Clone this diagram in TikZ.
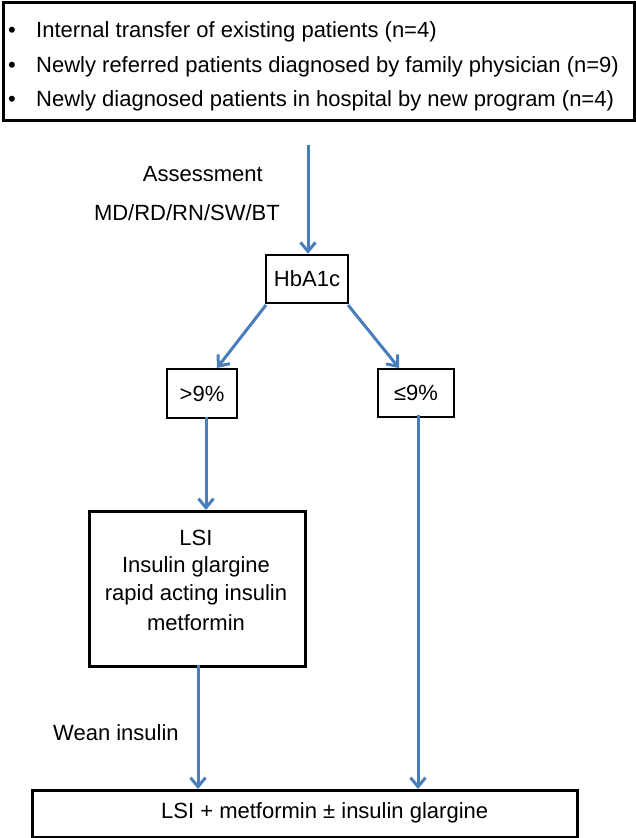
\documentclass[tikz,border=0pt]{standalone}
\usepackage{fontspec}
\setmainfont{Liberation Sans}
\usetikzlibrary{arrows.meta}
\definecolor{arrowblue}{RGB}{74,126,187}
\tikzset{
  box/.style={draw=black, line width=2.5pt, inner sep=0pt},
  flow/.style={draw=arrowblue, line width=3pt, -{Straight Barb[length=9pt,width=15pt,line width=3pt]}},
  lbl/.style={font=\fontsize{22}{26}\selectfont, inner sep=0pt}
}
\begin{document}
\begin{tikzpicture}[x=1pt,y=-1pt]
\useasboundingbox (0,0) rectangle (636,838);
% top box
\node[box, minimum width=631pt, minimum height=118pt, anchor=north west] (top) at (2,1) {};
\node[lbl, anchor=west] (b1) at (8,32) {•};
\node[lbl, anchor=west] (t1) at (36,32) {Internal transfer of existing patients (n=4)};
\node[lbl, anchor=west] (b2) at (8,67) {•};
\node[lbl, anchor=west] (t2) at (36,67) {Newly referred patients diagnosed by family physician (n=9)};
\node[lbl, anchor=west] (b3) at (8,101) {•};
\node[lbl, anchor=west] (t3) at (36,101) {Newly diagnosed patients in hospital by new program (n=4)};
% labels
\node[lbl, anchor=east] (assess) at (263,174) {Assessment};
\node[lbl, anchor=east] (md) at (280,213) {MD/RD/RN/SW/BT};
\coordinate (s1) at (308,145);
% boxes
\node[box, minimum width=82pt, minimum height=48pt, lbl] (hb) at (307,279) {HbA1c};
\node[box, minimum width=70pt, minimum height=49pt, lbl] (gt) at (202,393.5) {>9\%};
\node[box, minimum width=76pt, minimum height=48pt, lbl] (le) at (416,393) {≤9\%};
\node[box, minimum width=216pt, minimum height=155pt, anchor=north west] (lsi) at (88,510) {};
\node[lbl] (l1) at (196,538) {LSI};
\node[lbl] (l2) at (196,567) {Insulin glargine};
\node[lbl] (l3) at (196,595) {rapid acting insulin};
\node[lbl] (l4) at (196,623) {metformin};
\node[lbl, anchor=west] (wean) at (53,733) {Wean insulin};
\node[box, minimum width=545pt, minimum height=47pt, anchor=north west] (bot) at (31,789) {};
\node[lbl, anchor=west] (bott) at (161,812.5) {LSI + metformin ± insulin glargine};
% connector end points
\coordinate (d1s) at (266,305);
\coordinate (d1e) at (217,368);
\coordinate (d2s) at (348,305);
\coordinate (d2e) at (399,368);
% arrows
\draw[flow] (s1) -- (hb.north -| s1);
\draw[flow] (d1s) -- (d1e);
\draw[flow] (d2s) -- (d2e);
\draw[flow] ([yshift=2pt]gt.south -| 206,0) -- (lsi.north -| 206,0);
\draw[flow] ([yshift=3pt]lsi.south -| 198,0) -- (bot.north -| 198,0);
\draw[flow] ([yshift=3pt]le.south -| 418,0) -- (bot.north -| 418,0);
\end{tikzpicture}
\end{document}
